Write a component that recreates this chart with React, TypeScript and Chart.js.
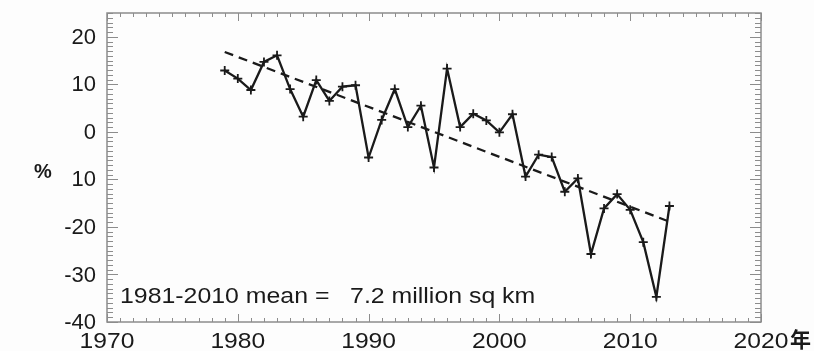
import React, { useEffect, useRef } from "react";
import { Chart, registerables } from "chart.js";

Chart.register(...registerables);

const years = [
  1979, 1980, 1981, 1982, 1983, 1984, 1985, 1986, 1987, 1988, 1989, 1990,
  1991, 1992, 1993, 1994, 1995, 1996, 1997, 1998, 1999, 2000, 2001, 2002,
  2003, 2004, 2005, 2006, 2007, 2008, 2009, 2010, 2011, 2012, 2013,
];
const anomalies = [
  12.9, 11.2, 8.8, 14.7, 16.1, 9.0, 3.2, 10.9, 6.5, 9.5, 9.8, -5.4,
  2.5, 9.0, 1.0, 5.5, -7.5, 13.3, 1.0, 3.8, 2.4, -0.1, 3.7, -9.4,
  -4.8, -5.3, -12.6, -9.8, -25.7, -16.1, -13.1, -16.4, -23.2, -34.7, -15.6,
];
const trendYears = [1979, 2013];
const trendValues = [16.8, -18.9];

const xTickValues = [1970, 1980, 1990, 2000, 2010, 2020];
const xTickLabels = ["1970", "1980", "1990", "2000", "2010", "2020"];
const yTickValues = [20, 10, 0, -10, -20, -30, -40];
const yTickLabels = ["20", "10", "0", "10", "-20", "-30", "-40"];
const yAxisTitle = "%";
const xAxisUnit = "年";
const meanNote = "1981-2010 mean =   7.2 million sq km";

const X_MIN = 1970;
const X_MAX = 2020;
const Y_MIN = -40;
const Y_MAX = 25;

const TEXT = "#1a1a1a";
const FRAME = "#8c8c8c";

const framePlugin = {
  id: "idlFrame",
  afterDraw(chart: any) {
    const { ctx, chartArea } = chart;
    const xs = chart.scales.x;
    const ys = chart.scales.y;
    const { left, right, top, bottom } = chartArea;
    ctx.save();
    ctx.strokeStyle = FRAME;
    ctx.lineWidth = 1.5;
    ctx.strokeRect(left, top, right - left, bottom - top);
    ctx.lineWidth = 1;
    ctx.beginPath();
    for (let yr = X_MIN; yr <= X_MAX; yr++) {
      const px = Math.round(xs.getPixelForValue(yr)) + 0.5;
      const len = yr % 10 === 0 ? 8 : 4;
      ctx.moveTo(px, bottom);
      ctx.lineTo(px, bottom - len);
      ctx.moveTo(px, top);
      ctx.lineTo(px, top + len);
    }
    for (let v = Y_MIN; v <= Y_MAX; v++) {
      const py = Math.round(ys.getPixelForValue(v)) + 0.5;
      const len = v % 10 === 0 ? 11 : 6;
      ctx.moveTo(left, py);
      ctx.lineTo(left + len, py);
      ctx.moveTo(right, py);
      ctx.lineTo(right - len, py);
    }
    ctx.stroke();

    ctx.fillStyle = TEXT;
    ctx.font = '22px "Liberation Sans", Arial, sans-serif';
    ctx.textAlign = "right";
    ctx.textBaseline = "middle";
    yTickValues.forEach((v, i) => {
      const py = ys.getPixelForValue(v);
      ctx.fillText(yTickLabels[i], left - 11, py + 1);
    });
    ctx.textAlign = "center";
    ctx.textBaseline = "alphabetic";
    xTickValues.forEach((v, i) => {
      const px = xs.getPixelForValue(v);
      ctx.save();
      ctx.translate(px, bottom + 26);
      ctx.scale(1.12, 1);
      ctx.fillText(xTickLabels[i], 0, 0);
      ctx.restore();
    });
    ctx.font = 'bold 21px "Noto Sans CJK SC", sans-serif';
    ctx.textAlign = "left";
    ctx.fillText(xAxisUnit, right + 29, bottom + 25);
    ctx.font = 'bold 20px "Liberation Sans", Arial, sans-serif';
    ctx.textAlign = "center";
    ctx.textBaseline = "middle";
    ctx.fillText(yAxisTitle, 43, 172);
    ctx.font = '22px "Liberation Sans", Arial, sans-serif';
    ctx.textAlign = "left";
    ctx.textBaseline = "alphabetic";
    ctx.save();
    ctx.translate(left + 13, bottom - 19);
    ctx.scale(1.13, 1);
    ctx.fillText(meanNote, 0, 0);
    ctx.restore();
    ctx.restore();
  },
};

export default function App() {
  const canvasRef = useRef<HTMLCanvasElement | null>(null);

  useEffect(() => {
    document.body.style.margin = "0";
    document.body.style.background = "#fdfdfd";
    const canvas = canvasRef.current;
    if (!canvas) return;
    const chart = new Chart(canvas, {
      type: "line",
      data: {
        datasets: [
          {
            label: "anomaly",
            data: years.map((y, i) => ({ x: y, y: anomalies[i] })),
            borderColor: TEXT,
            borderWidth: 2.3,
            pointStyle: "cross",
            pointRadius: 4.5,
            pointBorderWidth: 1.8,
            pointBorderColor: TEXT,
            tension: 0,
            fill: false,
          },
          {
            label: "trend",
            data: trendYears.map((y, i) => ({ x: y, y: trendValues[i] })),
            borderColor: TEXT,
            borderWidth: 2.3,
            borderDash: [9, 6],
            pointRadius: 0,
            tension: 0,
            fill: false,
          },
        ],
      },
      options: {
        animation: false,
        responsive: false,
        maintainAspectRatio: false,
        layout: { padding: { left: 107, right: 53, top: 13, bottom: 29 } },
        plugins: {
          legend: { display: false },
          tooltip: { enabled: false },
        },
        scales: {
          x: { type: "linear", min: X_MIN, max: X_MAX, display: false },
          y: { type: "linear", min: Y_MIN, max: Y_MAX, display: false },
        },
      },
      plugins: [framePlugin],
    });
    return () => chart.destroy();
  }, []);

  return (
    <div style={{ position: "absolute", left: 0, top: 0, width: 814, height: 351, background: "#fdfdfd" }}>
      <canvas ref={canvasRef} width={814} height={351} style={{ display: "block", width: 814, height: 351 }} />
    </div>
  );
}
